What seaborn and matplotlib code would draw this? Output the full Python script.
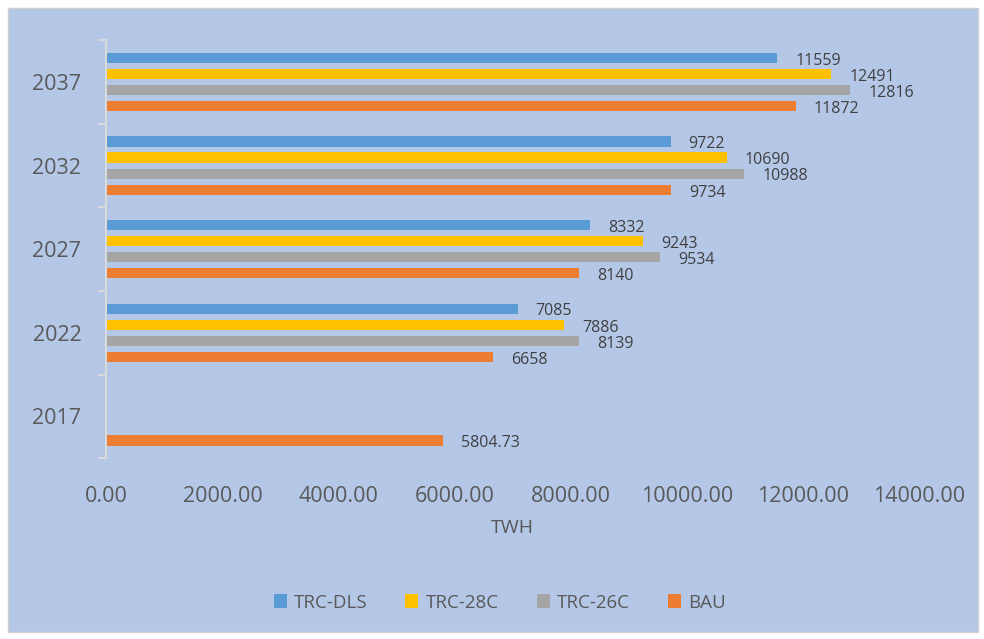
import matplotlib
matplotlib.use("Agg")
import matplotlib.pyplot as plt
import seaborn as sns
import pandas as pd
import numpy as np
from matplotlib.patches import Rectangle
from matplotlib.ticker import FixedLocator, FuncFormatter

years = ["2037", "2032", "2027", "2022", "2017"]
series = ["TRC-DLS", "TRC-28C", "TRC-26C", "BAU"]
trc_dls = [11559, 9722, 8332, 7085, None]
trc_28c = [12491, 10690, 9243, 7886, None]
trc_26c = [12816, 10988, 9534, 8139, None]
bau = [11872, 9734, 8140, 6658, 5804.73]
colors = ["#5B9BD5", "#FFC000", "#A5A5A5", "#ED7D31"]

rows = []
for name, vals in zip(series, [trc_dls, trc_28c, trc_26c, bau]):
    for y, v in zip(years, vals):
        if v is not None:
            rows.append({"year": y, "series": name, "value": v})
df = pd.DataFrame(rows)

bg = "#B4C7E7"
txt = "#595959"
sns.set_theme(style="white")
plt.rcParams["font.family"] = ["Open Sans", "DejaVu Sans"]

fig = plt.figure(figsize=(9.84, 6.39), dpi=100, facecolor="white")
frame = Rectangle((8/984, 7/639), 970/984, 624/639, transform=fig.transFigure,
                  facecolor=bg, edgecolor="#D0D0D0", lw=1, zorder=-10)
fig.add_artist(frame)
ax = fig.add_axes([0.108, 0.283, 0.826, 0.654])
ax.set_zorder(1)
ax.set_facecolor(bg)

sns.barplot(data=df, y="year", x="value", hue="series", order=years, hue_order=series,
            palette=colors, orient="h", width=0.77, gap=0.36, ax=ax, legend=False,
            saturation=1, linewidth=0, edgecolor="none")

for cont, name in zip(ax.containers, series):
    labels = []
    for v in cont.datavalues:
        if np.isnan(v):
            labels.append("")
        elif float(v).is_integer():
            labels.append(f"{int(v)}")
        else:
            labels.append(f"{v:.2f}")
    texts = ax.bar_label(cont, labels=labels, padding=13, fontsize=11.5, color="#404040")
    for t in texts:
        x0, y0 = t.xyann
        t.xyann = (x0, y0 - 2)

ax.set_xlim(0, 14000)
ax.set_ylim(4.5, -0.5)
ax.xaxis.set_major_locator(FixedLocator(np.arange(0, 14001, 2000)))
ax.xaxis.set_major_formatter(FuncFormatter(lambda v, p: f"{v:.2f}"))
ax.tick_params(axis="x", length=0, labelsize=15.5, colors=txt, pad=20)
ax.tick_params(axis="y", which="major", length=0, labelsize=15.5, colors=txt, pad=18)
ax.set_yticks(np.arange(-0.5, 5, 1), minor=True)
ax.tick_params(axis="y", which="minor", left=True, length=6, width=1.5, color="#D9D9D9")
ax.set_xlabel("TWH", fontsize=14, color=txt, labelpad=9)
ax.set_ylabel("")
for s in ["top", "right", "bottom"]:
    ax.spines[s].set_visible(False)
ax.spines["left"].set_color("#D9D9D9")
ax.spines["left"].set_linewidth(1.5)
ax.grid(False)

handles = [Rectangle((0, 0), 1, 1, facecolor=c, edgecolor="none") for c in colors]
leg = fig.legend(handles, series, loc="center", bbox_to_anchor=(0.508, 0.057), ncol=4,
                 frameon=False, handlelength=0.7, handleheight=0.7, handletextpad=0.4,
                 columnspacing=2.0, fontsize=13.5, labelcolor=txt)
leg.set_zorder(2)

fig.savefig("out.png", dpi=100, facecolor="white")
